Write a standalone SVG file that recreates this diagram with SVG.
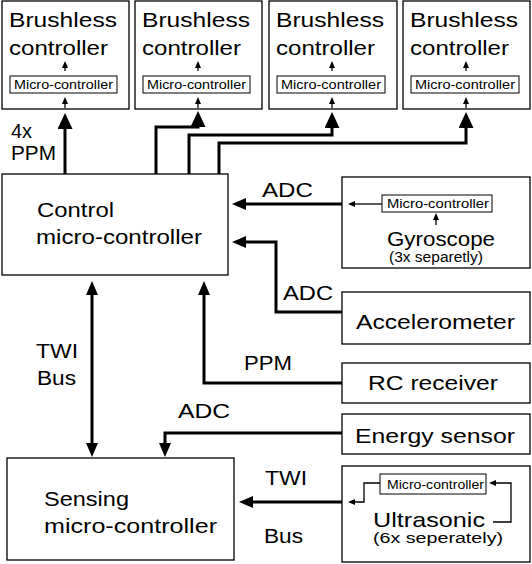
<svg xmlns="http://www.w3.org/2000/svg" width="532" height="564" viewBox="0 0 532 564">
<style>
.box{fill:#fff;stroke:#000;stroke-width:1.3}
.sbox{fill:#fff;stroke:#000;stroke-width:1}
.t{font-family:"Liberation Sans",Arial,sans-serif;font-size:21px;fill:#000}
.l{font-family:"Liberation Sans",Arial,sans-serif;font-size:20px;fill:#000}
.s{font-family:"Liberation Sans",Arial,sans-serif;font-size:12px;fill:#000}
.p{font-family:"Liberation Sans",Arial,sans-serif;font-size:14px;fill:#000}
.c{fill:none;stroke:#000;stroke-width:3}
.cbig{marker-end:url(#big)}
.cmed{marker-end:url(#med)}
.thin{fill:none;stroke:#000;stroke-width:1.3;marker-end:url(#sm)}
</style>
<defs>
<marker id="big" markerUnits="userSpaceOnUse" viewBox="0 0 16 15" refX="1" refY="7.5" markerWidth="16" markerHeight="15" orient="auto"><path d="M0,0 L16,7.5 L0,15 z" fill="#000"/></marker>
<marker id="med" markerUnits="userSpaceOnUse" viewBox="0 0 14 12" refX="1" refY="6" markerWidth="14" markerHeight="12" orient="auto"><path d="M0,0 L14,6 L0,12 z" fill="#000"/></marker>
<marker id="medS" markerUnits="userSpaceOnUse" viewBox="0 0 14 12" refX="1" refY="6" markerWidth="14" markerHeight="12" orient="auto-start-reverse"><path d="M0,0 L14,6 L0,12 z" fill="#000"/></marker>
<marker id="sm" markerUnits="userSpaceOnUse" viewBox="0 0 7 6" refX="1" refY="3" markerWidth="7" markerHeight="6" orient="auto"><path d="M0,0 L7,3 L0,6 z" fill="#000"/></marker>
</defs>

<g id="brushless1">
<rect class="box" x="2" y="1" width="127" height="108"/>
<text class="t" x="9" y="27" textLength="108" lengthAdjust="spacingAndGlyphs">Brushless</text>
<text class="t" x="9" y="55" textLength="99" lengthAdjust="spacingAndGlyphs">controller</text>
<rect class="sbox" x="10" y="76" width="107" height="17"/>
<text class="s" x="14" y="89" textLength="99" lengthAdjust="spacingAndGlyphs">Micro-controller</text>
<path class="thin" d="M65,71 V67"/>
<path class="thin" d="M65,108 V103"/>
</g>
<g id="brushless2">
<rect class="box" x="135" y="1" width="127" height="108"/>
<text class="t" x="142" y="27" textLength="108" lengthAdjust="spacingAndGlyphs">Brushless</text>
<text class="t" x="142" y="55" textLength="99" lengthAdjust="spacingAndGlyphs">controller</text>
<rect class="sbox" x="143" y="76" width="107" height="17"/>
<text class="s" x="147" y="89" textLength="99" lengthAdjust="spacingAndGlyphs">Micro-controller</text>
<path class="thin" d="M198,71 V67"/>
<path class="thin" d="M198,108 V103"/>
</g>
<g id="brushless3">
<rect class="box" x="269" y="1" width="128" height="108"/>
<text class="t" x="276" y="27" textLength="108" lengthAdjust="spacingAndGlyphs">Brushless</text>
<text class="t" x="276" y="55" textLength="99" lengthAdjust="spacingAndGlyphs">controller</text>
<rect class="sbox" x="277" y="76" width="108" height="17"/>
<text class="s" x="281" y="89" textLength="100" lengthAdjust="spacingAndGlyphs">Micro-controller</text>
<path class="thin" d="M332,71 V67"/>
<path class="thin" d="M332,108 V103"/>
</g>
<g id="brushless4">
<rect class="box" x="403" y="1" width="127" height="108"/>
<text class="t" x="410" y="27" textLength="108" lengthAdjust="spacingAndGlyphs">Brushless</text>
<text class="t" x="410" y="55" textLength="99" lengthAdjust="spacingAndGlyphs">controller</text>
<rect class="sbox" x="411" y="76" width="108" height="17"/>
<text class="s" x="415" y="89" textLength="100" lengthAdjust="spacingAndGlyphs">Micro-controller</text>
<path class="thin" d="M466,71 V67"/>
<path class="thin" d="M466,108 V103"/>
</g>

<g id="control">
<rect class="box" x="2" y="174" width="226" height="101"/>
<text class="t" x="37" y="217" textLength="77" lengthAdjust="spacingAndGlyphs">Control</text>
<text class="t" x="36" y="244" textLength="166" lengthAdjust="spacingAndGlyphs">micro-controller</text>
</g>

<g id="gyroscope">
<rect class="box" x="342" y="177" width="188" height="91"/>
<rect class="sbox" x="382" y="195" width="110" height="17"/>
<text class="s" x="387" y="208" textLength="102" lengthAdjust="spacingAndGlyphs">Micro-controller</text>
<path class="thin" d="M382,204 H354"/>
<path class="thin" d="M436,225 V219"/>
<text class="t" x="387" y="246" textLength="108" lengthAdjust="spacingAndGlyphs">Gyroscope</text>
<text class="p" x="389" y="262" textLength="94" lengthAdjust="spacingAndGlyphs">(3x separetly)</text>
</g>

<g id="accelerometer">
<rect class="box" x="342" y="292" width="188" height="52"/>
<text class="t" x="356" y="329" textLength="159" lengthAdjust="spacingAndGlyphs">Accelerometer</text>
</g>

<g id="rc-receiver">
<rect class="box" x="342" y="363" width="188" height="40"/>
<text class="t" x="368" y="390" textLength="130" lengthAdjust="spacingAndGlyphs">RC receiver</text>
</g>

<g id="energy-sensor">
<rect class="box" x="342" y="414" width="188" height="40"/>
<text class="t" x="355" y="443" textLength="160" lengthAdjust="spacingAndGlyphs">Energy sensor</text>
</g>

<g id="sensing">
<rect class="box" x="7" y="458" width="227" height="102"/>
<text class="t" x="44" y="506" textLength="85" lengthAdjust="spacingAndGlyphs">Sensing</text>
<text class="t" x="44" y="533" textLength="173" lengthAdjust="spacingAndGlyphs">micro-controller</text>
</g>

<g id="ultrasonic">
<rect class="box" x="342" y="466" width="188" height="96"/>
<rect class="sbox" x="380" y="474" width="106" height="20"/>
<text class="s" x="387" y="489" textLength="97" lengthAdjust="spacingAndGlyphs">Micro-controller</text>
<path class="thin" d="M380,483 H364 V502 H354"/>
<path class="thin" d="M493,522 H511 V483 H495"/>
<text class="t" x="373" y="527" textLength="112" lengthAdjust="spacingAndGlyphs">Ultrasonic</text>
<text class="p" x="373" y="543" textLength="130" lengthAdjust="spacingAndGlyphs">(6x seperately)</text>
</g>

<g id="connectors">
<path class="c cbig" d="M65,174 V128"/>
<path class="c cbig" d="M156,174 V127 H198 V126"/>
<path class="c cbig" d="M189,174 V135 H332 V127"/>
<path class="c cbig" d="M219,174 V143 H466 V127"/>
<path class="c cmed" d="M342,204 H245"/>
<path class="c cmed" d="M342,312 H276 V242 H245"/>
<path class="c cmed" d="M342,383 H204 V294"/>
<path class="c" d="M92,294 V444" style="marker-start:url(#medS);marker-end:url(#medS)"/>
<path class="c cmed" d="M342,433 H165 V444"/>
<path class="c cmed" d="M342,502 H252"/>
<text class="l" x="11" y="138" textLength="21" lengthAdjust="spacingAndGlyphs">4x</text>
<text class="l" x="11" y="160" textLength="45" lengthAdjust="spacingAndGlyphs">PPM</text>
<text class="l" x="262" y="197" textLength="51" lengthAdjust="spacingAndGlyphs">ADC</text>
<text class="l" x="283" y="300" textLength="50" lengthAdjust="spacingAndGlyphs">ADC</text>
<text class="l" x="244" y="370" textLength="48" lengthAdjust="spacingAndGlyphs">PPM</text>
<text class="l" x="36" y="358" textLength="42" lengthAdjust="spacingAndGlyphs">TWI</text>
<text class="l" x="37" y="385" textLength="39" lengthAdjust="spacingAndGlyphs">Bus</text>
<text class="l" x="178" y="418" textLength="52" lengthAdjust="spacingAndGlyphs">ADC</text>
<text class="l" x="265" y="485" textLength="42" lengthAdjust="spacingAndGlyphs">TWI</text>
<text class="l" x="264" y="543" textLength="39" lengthAdjust="spacingAndGlyphs">Bus</text>
</g>
</svg>
